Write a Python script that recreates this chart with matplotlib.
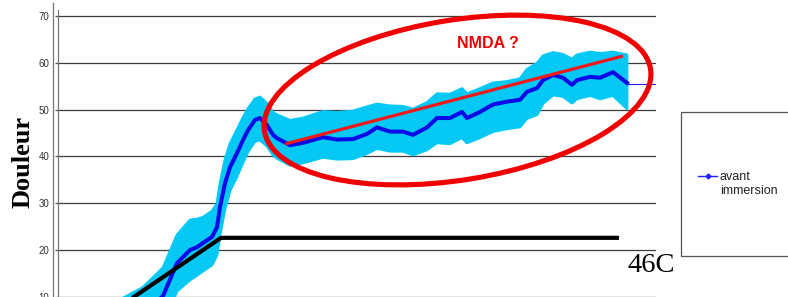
import matplotlib
matplotlib.use("Agg")
import matplotlib.pyplot as plt
from matplotlib.patches import Ellipse, Rectangle
from matplotlib.lines import Line2D
import numpy as np

# ---- data ----
time = [10, 17, 21.0, 22.6, 23.8, 26.4, 27.8, 29.0, 30.8, 31.8, 32.4, 33.4, 34.4, 35.8,
        37.0, 38.0, 39.4, 40.4, 41.8, 43.0, 43.8, 46.4, 49.0, 53.0, 55.8, 59.0, 61.8,
        63.8, 66.4, 69.0, 71.0, 73.8, 75.8, 78.4, 80.8, 81.8, 84.4, 87.0, 89.8, 92.4,
        93.8, 95.8, 97.0, 99.0, 101.0, 102.8, 103.8, 106.4, 108.4, 111.0, 113.8]
douleur = [2.0, 6.0, 10.2, 14.2, 17.2, 20.0, 20.6, 21.5, 22.8, 24.9, 29.2, 34.3, 37.7, 40.7,
           43.5, 45.6, 47.8, 48.2, 46.7, 44.6, 43.9, 42.4, 42.9, 44.1, 43.6, 43.7, 44.8,
           46.2, 45.3, 45.3, 44.6, 46.2, 48.2, 48.2, 49.5, 48.2, 49.5, 51.1, 51.7, 52.1,
           53.8, 54.6, 56.3, 57.4, 56.8, 55.3, 56.3, 57.0, 56.8, 58.0, 55.7]
err_up = [6, 6, 6, 6, 6, 6.4, 6, 5.5, 5.5, 5, 5, 5, 5, 5,
          4.8, 4.6, 4.5, 4.5, 4.6, 4.8, 5.0, 5.3, 5.3, 5.5, 5.8, 6.0, 5.8,
          5.0, 5.5, 5.4, 5.5, 5.3, 5.2, 5.1, 5.0, 5.2, 5.0, 4.6, 4.3, 4.5,
          4.8, 5.3, 5.2, 4.8, 5.0, 5.5, 5.4, 5.3, 5.2, 4.3, 6.0]
err_dn = [6, 6, 6, 6, 6, 6.4, 6, 6, 6, 6, 6, 5.5, 5, 5,
          4.8, 4.6, 4.6, 4.7, 4.5, 4.3, 4.3, 4.3, 4.3, 4.3, 4.2, 4.2, 4.2,
          4.5, 4.2, 4.2, 4.3, 4.8, 5.3, 5.5, 5.5, 5.3, 5.5, 5.8, 5.8, 5.8,
          5.7, 5.7, 5.0, 4.3, 4.0, 3.9, 4.0, 4.0, 4.5, 5.0, 5.5]
tail_time = [113.8, 119.6]
tail_value = [55.5, 55.5]
black_time = [13, 32.6, 112.2]
black_value = [8.4, 22.6, 22.6]
nmda_time = [45.4, 113.0]
nmda_value = [42.65, 61.45]
yticks = [10, 20, 30, 40, 50, 60, 70]

W, H = 788, 297
fig = plt.figure(figsize=(W / 100, H / 100), dpi=100)

# axes geometry in pixels
px_per_unit = 4.68
ax_left, ax_right = 58, 656
ax_top_px, ax_bot_px = 10, 297
y_top = 70 + (16 - ax_top_px) / px_per_unit
y_bot = 70 - (ax_bot_px - 16) / px_per_unit
ax = fig.add_axes([ax_left / W, 1 - ax_bot_px / H, (ax_right - ax_left) / W,
                   (ax_bot_px - ax_top_px) / H])
ax.set_xlim(0, 119.6)
ax.set_ylim(y_bot, y_top)

t = np.array(time)
m = np.array(douleur)
up = m + np.array(err_up)
dn = m - np.array(err_dn)

for yv in yticks:
    ax.axhline(yv, color='#3c3c3c', lw=0.9, zorder=1)

ax.fill_between(t, dn, up, color='#05c8f5', edgecolor='#05c8f5', lw=2.0, zorder=2)
ax.plot(t, m, color='#0a0ae6', lw=2.9, solid_joinstyle='round', zorder=3)
ax.plot(tail_time, tail_value, color='#2020ff', lw=0.8, zorder=3)
ax.plot(black_time, black_value, color='black', lw=3.0, zorder=4, solid_capstyle='butt')
ax.plot(nmda_time, nmda_value, color='#f01818', lw=2.3, zorder=5, solid_capstyle='butt')

for s in ['top', 'right', 'bottom']:
    ax.spines[s].set_visible(False)
ax.spines['left'].set_color('#777777')
ax.spines['left'].set_linewidth(0.9)
ax.set_xticks([])
ax.set_yticks(yticks)
ax.set_yticklabels([str(v) for v in yticks], fontsize=7, color='#333333',
                   family='Liberation Sans')
ax.tick_params(axis='y', direction='out', length=2.2, width=0.9, color='#555555', pad=4)

# outer vertical line
fig.add_artist(Line2D([53 / W, 53 / W], [0, 1 - 3 / H], color='#777777', lw=0.9))

# red ellipse
ell = Ellipse((4.575, (H - 100) / 100), width=3.91, height=1.60, angle=9.15,
              transform=fig.dpi_scale_trans, fill=False, edgecolor='#f00000', lw=3.7,
              zorder=10)
fig.add_artist(ell)

fig.text(488 / W, 1 - 43 / H, 'NMDA ?', color='#f00000', fontsize=11.5,
         fontweight='bold', family='Liberation Sans', ha='center', va='center')

fig.text(23 / W, 1 - 162 / H, 'Douleur', rotation=90, fontsize=19, fontweight='bold',
         family='Liberation Serif', ha='center', va='center')

fig.text(627 / W, 1 - 272 / H, '46C', fontsize=20.5, family='Liberation Serif',
         ha='left', va='baseline')

# legend box
fig.add_artist(Rectangle((681 / W, 1 - 256 / H), 120 / W, 144 / H, fill=False,
                         edgecolor='#555555', lw=0.9, transform=fig.transFigure))
fig.add_artist(Line2D([698 / W, 717 / W], [1 - 176 / H, 1 - 176 / H], color='#2020ff',
                      lw=1.0, transform=fig.transFigure))
fig.add_artist(Line2D([707.5 / W], [1 - 176 / H], color='#2020ff', marker='D',
                      markersize=2.5, linestyle='none', transform=fig.transFigure))
fig.text(720 / W, 1 - 171 / H, 'avant\nimmersion', fontsize=9, family='Liberation Sans',
         color='#222222', ha='left', va='top', linespacing=1.25,
         transform=fig.transFigure)

fig.savefig('out.png', dpi=100)
